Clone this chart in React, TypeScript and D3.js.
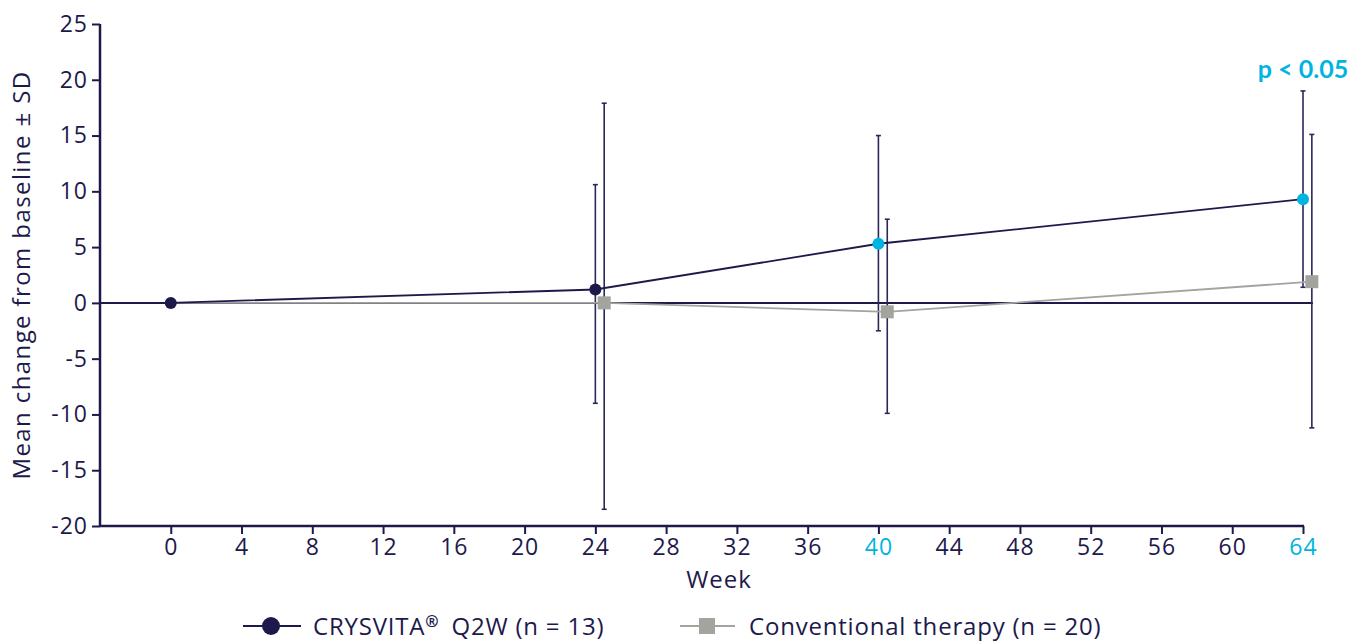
import React, { useEffect, useRef } from 'react'
import * as d3 from 'd3'

const weeks = [0, 24, 40, 64]
const crysvitaMean = [0, 1.2, 5.3, 9.3]
const crysvitaUpper = [0, 10.6, 15.0, 19.0]
const crysvitaLower = [0, -9.0, -2.5, 1.4]
const conventionalMean = [0, 0, -0.8, 1.9]
const conventionalUpper = [0, 17.9, 7.5, 15.1]
const conventionalLower = [0, -18.5, -9.9, -11.2]
const xTicks = [0, 4, 8, 12, 16, 20, 24, 28, 32, 36, 40, 44, 48, 52, 56, 60, 64]
const yTicks = [-20, -15, -10, -5, 0, 5, 10, 15, 20, 25]
const highlightWeeks = [40, 64]

const NAVY = '#1d1a4b'
const CYAN = '#00b4e1'
const GREY = '#a3a49e'
const FONT = '"Open Sans", "Noto Sans", sans-serif'
const BOLD_FONT = 'Lato, "Noto Sans", sans-serif'

export default function App() {
    const ref = useRef<SVGSVGElement>(null)

    useEffect(() => {
        const svg = d3.select(ref.current)
        svg.selectAll('*').remove()

        const left = 100, right = 1303, top = 24, bottom = 526
        const x = d3.scaleLinear().domain([-4, 64]).range([left, right])
        const y = d3.scaleLinear().domain([-20, 25]).range([bottom, top])
        const offset = 0.5 // conventional therapy drawn a little to the right

        // y axis
        const yAxis = svg.append('g')
            .attr('transform', `translate(${left},0)`)
            .call(d3.axisLeft(y).tickValues(yTicks).tickSize(8).tickPadding(4))
        yAxis.select('.domain').attr('stroke', NAVY).attr('stroke-width', 2.5)
            .attr('d', `M0,${top}V${bottom}`)
        yAxis.selectAll('.tick line').attr('stroke', NAVY).attr('stroke-width', 2)
        yAxis.selectAll('.tick text')
            .attr('fill', NAVY).style('font-family', FONT).style('font-size', '23px')
            .style('letter-spacing', '1px')
            .text((d: any) => d < 0 ? '-' + Math.abs(d) : String(d))

        // x axis
        const xAxis = svg.append('g')
            .attr('transform', `translate(0,${bottom})`)
            .call(d3.axisBottom(x).tickValues(xTicks).tickSize(8).tickPadding(5))
        xAxis.select('.domain').attr('stroke', NAVY).attr('stroke-width', 2.5)
            .attr('d', `M${left},0H${right + 1}`)
        xAxis.selectAll('.tick line').attr('stroke', NAVY).attr('stroke-width', 2)
        xAxis.selectAll('.tick text')
            .attr('fill', (d: any) => highlightWeeks.includes(d) ? CYAN : NAVY)
            .style('font-family', FONT).style('font-size', '23px').style('letter-spacing', '1px')

        // zero line
        svg.append('line')
            .attr('x1', left).attr('x2', x(64 + offset) + 1)
            .attr('y1', y(0)).attr('y2', y(0))
            .attr('stroke', NAVY).attr('stroke-width', 2)

        // axis titles
        svg.append('text')
            .attr('transform', `translate(30,${(top + bottom) / 2}) rotate(-90)`)
            .attr('text-anchor', 'middle')
            .attr('fill', NAVY).style('font-family', FONT).style('font-size', '24px')
            .style('letter-spacing', '1.4px')
            .text('Mean change from baseline ± SD')
        svg.append('text')
            .attr('x', 719).attr('y', 588)
            .attr('text-anchor', 'middle')
            .attr('fill', NAVY).style('font-family', FONT).style('font-size', '24px')
            .style('letter-spacing', '1px')
            .text('Week')

        const crys = weeks.map((w, i) => ({ w, m: crysvitaMean[i], hi: crysvitaUpper[i], lo: crysvitaLower[i] }))
        const conv = weeks.map((w, i) => ({ w: w + offset, m: conventionalMean[i], hi: conventionalUpper[i], lo: conventionalLower[i] }))
        const line = d3.line<any>().x(d => x(d.w)).y(d => y(d.m))

        const errorBars = (data: any[], color: string) => {
            const g = svg.append('g')
            data.filter(d => d.hi !== d.lo).forEach(d => {
                const cx = x(d.w)
                g.append('line').attr('x1', cx).attr('x2', cx).attr('y1', y(d.hi)).attr('y2', y(d.lo))
                    .attr('stroke', color).attr('stroke-width', 1.6)
                g.append('line').attr('x1', cx - 2.5).attr('x2', cx + 2.5).attr('y1', y(d.hi)).attr('y2', y(d.hi))
                    .attr('stroke', color).attr('stroke-width', 1.6)
                g.append('line').attr('x1', cx - 2.5).attr('x2', cx + 2.5).attr('y1', y(d.lo)).attr('y2', y(d.lo))
                    .attr('stroke', color).attr('stroke-width', 1.6)
            })
        }

        errorBars(crys, '#2a2857')
        errorBars(conv, '#2a2857')

        // conventional therapy
        svg.append('path').datum([{ w: 0, m: 0 }, ...conv.slice(1)])
            .attr('d', line).attr('fill', 'none').attr('stroke', GREY).attr('stroke-width', 1.8)
        svg.append('g').selectAll('rect').data(conv.slice(1)).enter().append('rect')
            .attr('x', d => x(d.w) - 6.5).attr('y', d => y(d.m) - 6.5)
            .attr('width', 13).attr('height', 13).attr('fill', GREY)

        // CRYSVITA
        svg.append('path').datum(crys)
            .attr('d', line).attr('fill', 'none').attr('stroke', NAVY).attr('stroke-width', 1.8)
        svg.append('g').selectAll('circle').data(crys).enter().append('circle')
            .attr('cx', d => x(d.w)).attr('cy', d => y(d.m)).attr('r', 6)
            .attr('fill', d => highlightWeeks.includes(d.w) ? CYAN : NAVY)

        svg.append('text')
            .attr('x', x(64)).attr('y', 78).attr('text-anchor', 'middle')
            .attr('fill', CYAN).style('font-family', BOLD_FONT).style('font-size', '25px').style('font-weight', 700)
            .text('p < 0.05')

        // legend
        const lg = svg.append('g').attr('transform', 'translate(0,626)')
        lg.append('line').attr('x1', 243).attr('x2', 301).attr('stroke', NAVY).attr('stroke-width', 2)
        lg.append('circle').attr('cx', 271).attr('r', 9).attr('fill', NAVY)
        const t1 = lg.append('text').attr('x', 313).attr('y', 9)
            .attr('fill', NAVY).style('font-family', FONT).style('font-size', '24px').style('letter-spacing', '0.8px')
        t1.append('tspan').text('CRYSVITA')
        t1.append('tspan').attr('dy', -8).style('font-size', '16px').style('font-weight', 700).text('®')
        t1.append('tspan').attr('dy', 8).attr('dx', 12).text('Q2W (n = 13)')

        lg.append('line').attr('x1', 680).attr('x2', 735).attr('stroke', GREY).attr('stroke-width', 2)
        lg.append('rect').attr('x', 699).attr('y', -8).attr('width', 16).attr('height', 16).attr('fill', GREY)
        lg.append('text').attr('x', 749).attr('y', 9)
            .attr('fill', NAVY).style('font-family', FONT).style('font-size', '24px').style('letter-spacing', '0.8px')
            .text('Conventional therapy (n = 20)')
    }, [])

    return (
        <svg ref={ref} width={1369} height={641}
            style={{ position: 'absolute', left: 0, top: 0, background: '#fff' }} />
    )
}
